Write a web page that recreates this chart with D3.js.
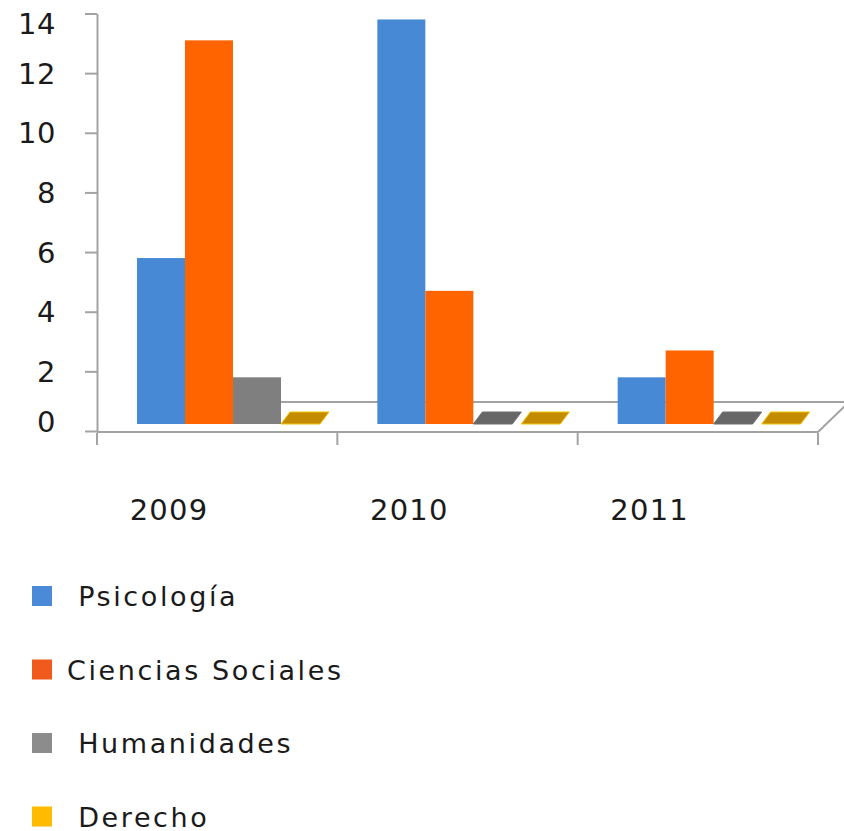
<!DOCTYPE html>
<html>
<head>
<meta charset="utf-8">
<script src="https://cdn.jsdelivr.net/npm/d3@7"></script>
<style>
  body { margin: 0; background: #fff; }
  text { font-family: "DejaVu Sans", Verdana, sans-serif; fill: #1a1a1a; }
</style>
</head>
<body>
<script>
// data
const years = ["2009", "2010", "2011"];
const seriesNames = [" Psicología", "Ciencias Sociales", " Humanidades", " Derecho"];
const psicologia = [5.8, 13.8, 1.8];
const cienciasSociales = [13.1, 4.7, 2.7];
const humanidades = [1.8, 0, 0];
const derecho = [0, 0, 0];
const yTicks = [0, 2, 4, 6, 8, 10, 12, 14];

const seriesValues = [psicologia, cienciasSociales, humanidades, derecho];
const barColors = ["#4889d5", "#ff6400", "#7f7f7f", "#ffc000"];
const flatColors = ["#3a6fb0", "#cc5000", "#676767", "#c38c00"];
const flatEdges = ["#6aa0e0", "#ff8a40", "#6f6f6f", "#f2c200"];
const legendColors = ["#4a8ad6", "#f05a1c", "#8c8c8c", "#ffbb00"];

const svg_width = 844, svg_height = 831;
const svg = d3.select("body").append("svg")
    .attr("width", svg_width)
    .attr("height", svg_height);

const axis_x = 97, axis_right = 818;
const floor_depth = 29, bar_depth = 7, flat_depth = 12, flat_skew = 9;

const y = d3.scaleLinear().domain([0, 14]).range([431, 13.5]);
const x0 = d3.scaleBand().domain(years).range([axis_x, axis_right]);
const x1 = d3.scaleBand().domain(d3.range(seriesNames.length)).range([40, 232]);

const base_y = y(0) - bar_depth;

// floor (back edge + right side), drawn behind the bars
const floorGroup = svg.append("g")
    .attr("stroke", "#a3a3a3")
    .attr("stroke-width", 2)
    .attr("fill", "none");
floorGroup.append("line")
    .attr("x1", axis_x + 43).attr("y1", y(0) - floor_depth)
    .attr("x2", axis_right + 30).attr("y2", y(0) - floor_depth);
floorGroup.append("line")
    .attr("x1", axis_right).attr("y1", y(0) + 1)
    .attr("x2", axis_right + 30).attr("y2", y(0) + 1 - floor_depth);

// bars
const barGroup = svg.append("g");
years.forEach(function(year, j){
    seriesValues.forEach(function(vals, s){
        var v = vals[j];
        var bx = x0(year) + x1(s), w = x1.bandwidth();
        if (v > 0) {
            barGroup.append("rect")
                .attr("x", bx)
                .attr("y", y(v))
                .attr("width", w)
                .attr("height", base_y - y(v))
                .attr("fill", barColors[s]);
        } else {
            var pts = [[bx, base_y], [bx + w - flat_skew, base_y],
                       [bx + w, base_y - flat_depth], [bx + flat_skew, base_y - flat_depth]];
            barGroup.append("polygon")
                .attr("points", pts.map(function(p){ return p.join(","); }).join(" "))
                .attr("fill", flatColors[s])
                .attr("stroke", flatEdges[s])
                .attr("stroke-width", 1);
        }
    });
});

// front edge of the floor / x axis
const xAxisGroup = svg.append("g")
    .attr("stroke", "#a3a3a3")
    .attr("stroke-width", 2);
xAxisGroup.append("line")
    .attr("x1", axis_x).attr("y1", y(0) + 1)
    .attr("x2", axis_right).attr("y2", y(0) + 1);
xAxisGroup.selectAll("line.tick")
    .data(years.map(function(d){ return x0(d); }).concat([axis_right]))
    .enter()
    .append("line")
    .attr("class", "tick")
    .attr("x1", function(d){ return d; })
    .attr("x2", function(d){ return d; })
    .attr("y1", y(0) + 2)
    .attr("y2", y(0) + 14);

svg.append("g").selectAll("text")
    .data(years)
    .enter()
    .append("text")
    .attr("x", function(d){ return x0(d) + 72; })
    .attr("y", 520)
    .attr("text-anchor", "middle")
    .attr("font-size", "29px")
    .attr("letter-spacing", "1.2px")
    .text(function(d){ return d; });

// y axis
const yAxis = d3.axisLeft(y)
    .tickValues(yTicks)
    .tickSize(12)
    .tickSizeOuter(0)
    .tickPadding(0)
    .tickFormat(d3.format("d"));
const yAxisGroup = svg.append("g")
    .attr("transform", "translate(" + axis_x + ",0)")
    .call(yAxis);
yAxisGroup.select(".domain").attr("stroke", "#a3a3a3").attr("stroke-width", 2);
yAxisGroup.selectAll(".tick line").attr("stroke", "#a3a3a3").attr("stroke-width", 2);
yAxisGroup.selectAll(".tick text")
    .attr("x", -41)
    .attr("dy", null)
    .attr("dominant-baseline", "central")
    .attr("y", function(d){ return Math.min(421, Math.max(23, y(d))) - y(d); })
    .attr("font-size", "29px")
    .attr("letter-spacing", "0.6px")
    .attr("font-family", "DejaVu Sans")
    .attr("fill", "#1a1a1a");

// legend
const legend = svg.append("g").selectAll("g")
    .data(seriesNames)
    .enter()
    .append("g")
    .attr("transform", function(d, i){ return "translate(0," + (596 + i * 73.5) + ")"; });
legend.append("rect")
    .attr("x", 32)
    .attr("y", -10)
    .attr("width", 20)
    .attr("height", 20)
    .attr("fill", function(d, i){ return legendColors[i]; });
legend.append("text")
    .attr("x", 67)
    .attr("y", 10)
    .attr("font-size", "27px")
    .attr("letter-spacing", "2.6px")
    .style("white-space", "pre")
    .text(function(d){ return d; });
</script>
</body>
</html>
